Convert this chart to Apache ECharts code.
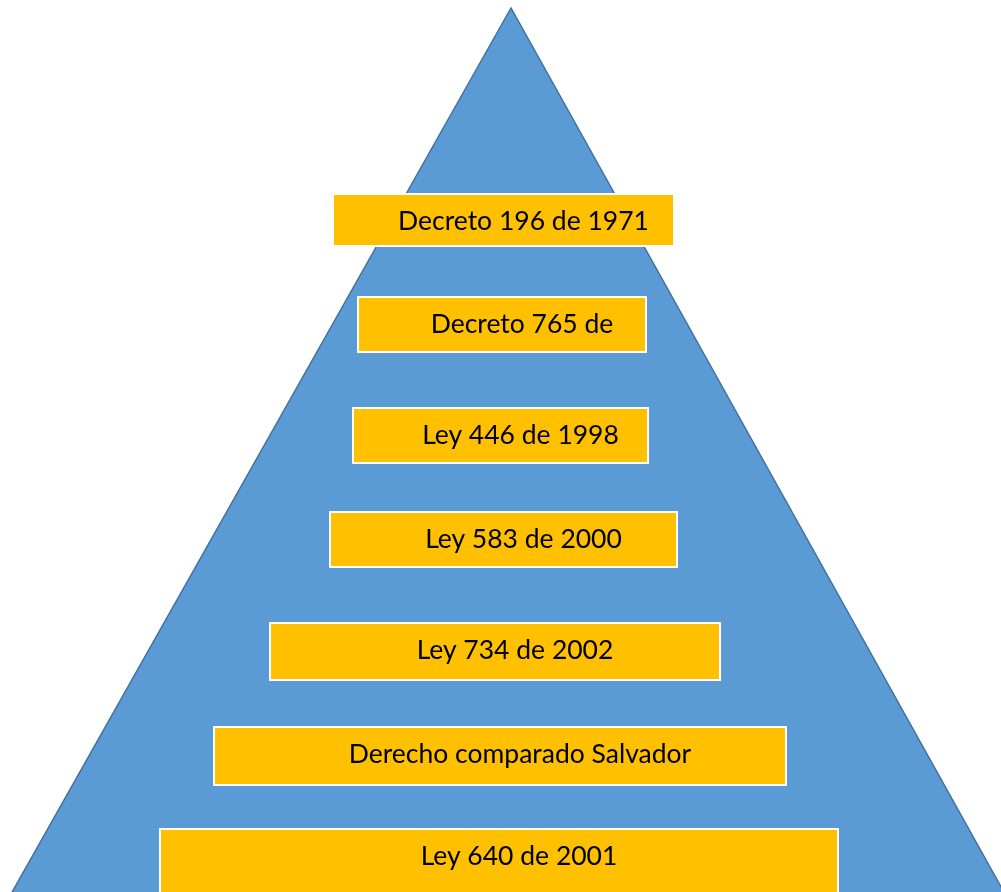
<!DOCTYPE html>
<html><head><meta charset="utf-8">
<script src="https://cdn.jsdelivr.net/npm/echarts@6/dist/echarts.min.js"></script>
<style>html,body{margin:0;padding:0;background:#fff}#c{width:1001px;height:892px}</style>
</head><body><div id="c"></div>
<script>
const labels = ['Decreto 196 de 1971', 'Decreto 765 de', 'Ley 446 de 1998', 'Ley 583 de 2000', 'Ley 734 de 2002', 'Derecho comparado Salvador', 'Ley 640 de 2001'];
const boxLeft = [333, 358, 353, 330, 270, 214, 160];
const boxRight = [674, 646, 648, 677, 720, 786, 838];
const boxTop = [194, 297, 408, 512, 623, 727, 829];
const boxBottom = [246, 352, 463, 567, 680, 785, 896];
const pyramidX = [511, 11, 1005];
const pyramidY = [8, 894, 894];

const boxData = labels.map((l, i) => [boxLeft[i], boxRight[i], boxTop[i], boxBottom[i], i]);
const chart = echarts.init(document.getElementById('c'), null, {renderer: 'canvas'});
chart.setOption({
  animation: false,
  backgroundColor: '#ffffff',
  grid: {left: 0, right: 0, top: 0, bottom: 0},
  xAxis: {type: 'value', min: 0, max: 1001, show: false},
  yAxis: {type: 'value', min: 0, max: 892, inverse: true, show: false},
  series: [
    {
      type: 'custom',
      clip: false,
      data: [[0]],
      renderItem: function (params, api) {
        const pts = pyramidX.map((x, i) => api.coord([x, pyramidY[i]]));
        return {
          type: 'polygon',
          shape: {points: pts},
          style: {fill: '#5B9BD5', stroke: '#41719C', lineWidth: 1.5}
        };
      }
    },
    {
      type: 'custom',
      clip: false,
      data: boxData,
      renderItem: function (params, api) {
        const p1 = api.coord([api.value(0), api.value(2)]);
        const p2 = api.coord([api.value(1), api.value(3)]);
        return {
          type: 'rect',
          shape: {x: p1[0], y: p1[1], width: p2[0] - p1[0], height: p2[1] - p1[1]},
          style: {fill: '#FFC000', stroke: '#ffffff', lineWidth: 2},
          textContent: {
            style: {text: labels[api.value(4)], fill: '#000000', font: '26.5px Lato', align: 'center', verticalAlign: 'middle'}
          },
          textConfig: {position: ['50%', 28], offset: [20, 0]}
        };
      }
    }
  ]
});
</script>
</body></html>
